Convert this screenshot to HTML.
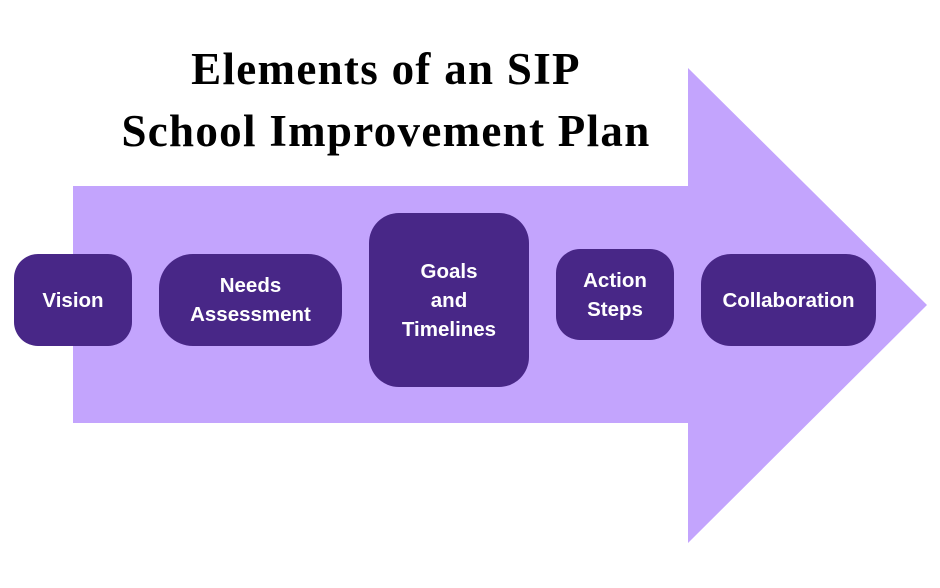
<!DOCTYPE html>
<html><head><meta charset="utf-8"><style>
body{margin:0;width:940px;height:588px;background:#fff;position:relative;overflow:hidden;font-family:"Liberation Sans",sans-serif}
.t{position:absolute;left:0;width:772px;text-align:center;font-family:"Liberation Serif",serif;font-weight:bold;font-size:45px;letter-spacing:1.3px;color:#000}
.b{position:absolute;background:#482787;border-radius:24px;color:#fff;font-weight:bold;font-size:20.5px;display:flex;align-items:center;justify-content:center;text-align:center;line-height:29px}
</style></head><body>
<svg width="940" height="588" style="position:absolute;left:0;top:0">
<polygon points="73,186 688,186 688,68 927,305 688,543 688,423 73,423" fill="#c3a4fd"/>
</svg>
<div class="t" style="top:43px">Elements of an SIP</div>
<div class="t" style="top:105px">School Improvement Plan</div>
<div class="b" style="left:14px;top:254px;width:118px;height:92px">Vision</div>
<div class="b" style="left:159px;top:254px;width:183px;height:92px;border-radius:34px">Needs<br>Assessment</div>
<div class="b" style="left:369px;top:213px;width:160px;height:174px;border-radius:30px">Goals<br>and<br>Timelines</div>
<div class="b" style="left:556px;top:249px;width:118px;height:91px">Action<br>Steps</div>
<div class="b" style="left:701px;top:254px;width:175px;height:92px;border-radius:30px">Collaboration</div>
</body></html>
